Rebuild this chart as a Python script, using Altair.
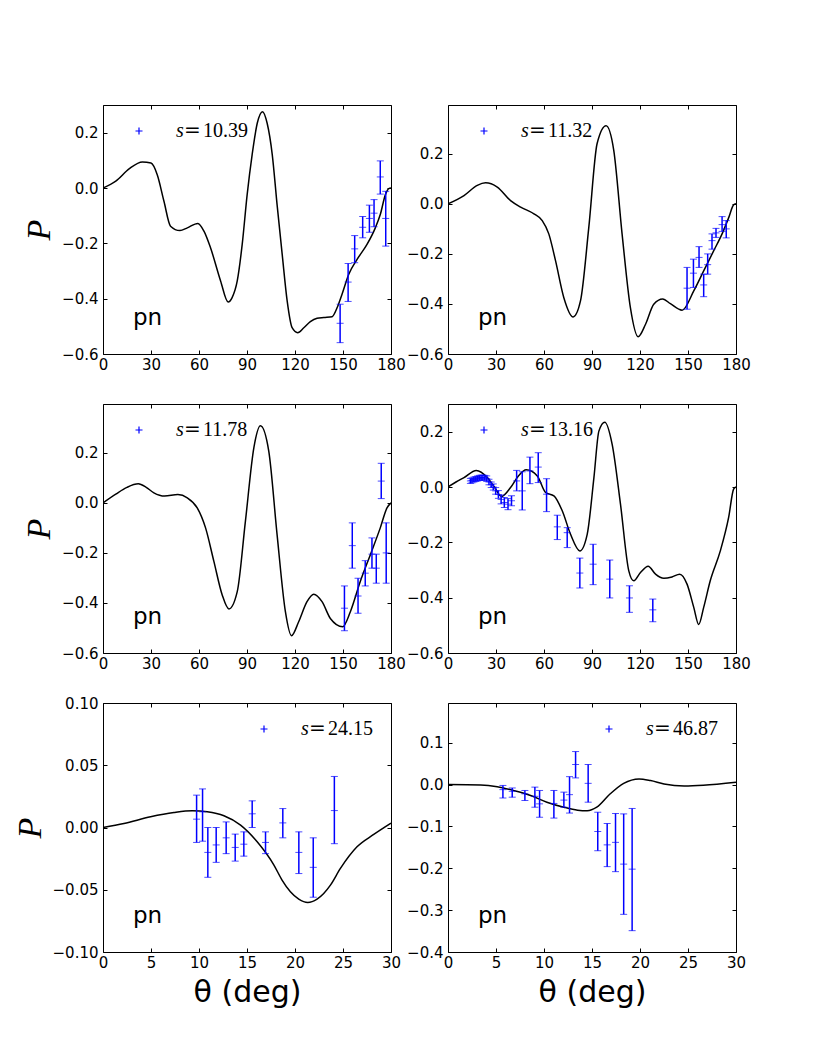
import altair as alt
import pandas as pd

W, H = 288, 249
BLUE = "#0000ff"

# ---------------- data ----------------
# panel 1: s = 10.39
p1_cx = [0, 8, 16.5, 24.6, 30, 33.9, 38.1, 42.2, 48.1, 52.7, 59.3, 63.1, 67.2, 73.5, 78.2, 80.7, 83.9, 87, 90.1, 93.2, 96.4, 99.7, 102.6, 105.8, 108.8, 112, 115.1, 118.2, 121.7, 125.5, 129.6, 133.8, 138, 143.2, 146.3, 149.4, 153.6, 158.8, 165, 170.2, 173.3, 176.5, 178.6, 180]
p1_cy = [0, 0.025, 0.07, 0.094, 0.09, 0.048, -0.048, -0.138, -0.154, -0.144, -0.128, -0.156, -0.216, -0.336, -0.412, -0.396, -0.336, -0.204, -0.024, 0.12, 0.234, 0.276, 0.234, 0.12, -0.06, -0.24, -0.408, -0.505, -0.523, -0.505, -0.483, -0.471, -0.468, -0.465, -0.433, -0.384, -0.312, -0.258, -0.204, -0.144, -0.096, -0.024, -0.002, 0]
p1_dx = [148.2, 153.2, 157.3, 162.3, 166.5, 169.4, 173.3, 176.7]
p1_dy = [-0.489, -0.340, -0.220, -0.142, -0.110, -0.091, 0.040, -0.110]
p1_hi = [-0.420, -0.273, -0.172, -0.103, -0.062, -0.042, 0.098, -0.012]
p1_lo = [-0.559, -0.410, -0.270, -0.180, -0.160, -0.140, -0.022, -0.210]

# panel 2: s = 11.32
p2_cx = [0, 10, 18.3, 23.5, 30.8, 39.1, 45.4, 53.7, 58.9, 63, 67.2, 72.4, 78.2, 82.8, 88, 93.2, 98.8, 103.6, 108.8, 114, 118.8, 123.4, 128.6, 134.2, 139, 146.3, 153.6, 159.8, 166.1, 171.3, 175.5, 178.5, 180]
p2_cy = [0, 0.033, 0.074, 0.084, 0.067, 0.013, -0.013, -0.04, -0.067, -0.12, -0.227, -0.375, -0.452, -0.388, -0.094, 0.241, 0.312, 0.214, -0.12, -0.415, -0.531, -0.482, -0.401, -0.38, -0.399, -0.425, -0.348, -0.268, -0.187, -0.12, -0.054, -0.004, 0]
p2_dx = [149.4, 153.4, 156.9, 159.8, 162.3, 165.0, 167.5, 171.3, 173.9]
p2_dy = [-0.337, -0.277, -0.214, -0.324, -0.243, -0.147, -0.116, -0.083, -0.100]
p2_hi = [-0.254, -0.221, -0.171, -0.281, -0.200, -0.120, -0.098, -0.051, -0.067]
p2_lo = [-0.421, -0.334, -0.254, -0.371, -0.281, -0.181, -0.134, -0.110, -0.136]

# panel 3: s = 11.78
p3_cx = [0, 8, 15, 22.1, 27, 31.8, 38.5, 46.8, 52.7, 58.9, 64.1, 69.3, 74.5, 78.7, 83.9, 89, 94.3, 98.4, 103.6, 108.8, 114, 117.8, 122.3, 127.5, 131.7, 136.9, 142.1, 149.8, 154.6, 160.8, 167.1, 173.3, 177.5, 180]
p3_cy = [0, 0.035, 0.062, 0.076, 0.062, 0.04, 0.027, 0.033, 0.02, -0.02, -0.1, -0.234, -0.368, -0.424, -0.355, -0.074, 0.221, 0.308, 0.207, -0.127, -0.435, -0.531, -0.475, -0.395, -0.365, -0.395, -0.462, -0.495, -0.435, -0.314, -0.207, -0.1, -0.02, 0]
p3_dx = [150.9, 155.8, 159.4, 163.9, 168.1, 170.8, 173.9, 177.0]
p3_dy = [-0.421, -0.171, -0.372, -0.281, -0.205, -0.261, 0.087, -0.200]
p3_hi = [-0.332, -0.080, -0.301, -0.231, -0.140, -0.205, 0.158, -0.080]
p3_lo = [-0.511, -0.261, -0.441, -0.332, -0.261, -0.321, 0.017, -0.321]

# panel 4: s = 13.16
p4_cx = [0, 5, 10, 17.7, 24.6, 29, 33.5, 39.1, 44, 48.9, 55.8, 61, 66.2, 71.4, 76.6, 82.4, 87, 91.2, 94.3, 98, 102.6, 107.8, 113, 116.1, 120.3, 125.1, 129.7, 134.9, 140, 144.8, 149.4, 153.6, 156.7, 159.8, 163.9, 170.2, 175.4, 178.5, 180]
p4_cy = [0, 0.018, 0.034, 0.06, 0.034, 0.0, -0.034, -0.002, 0.04, 0.062, 0.04, -0.02, -0.032, -0.086, -0.171, -0.231, -0.171, 0.034, 0.202, 0.234, 0.154, -0.062, -0.303, -0.339, -0.309, -0.286, -0.315, -0.33, -0.325, -0.315, -0.351, -0.435, -0.497, -0.435, -0.339, -0.231, -0.11, -0.008, 0]
p4_dx = [14.0, 15.0, 16.2, 17.4, 18.5, 19.6, 20.7, 21.8, 23.0, 24.2, 25.6, 27.0, 28.3, 29.8, 31.5, 33.2, 35.2, 37.5, 39.7, 42.9, 46.4, 51.2, 56.4, 61.6, 68.3, 74.5, 82.4, 90.7, 101.1, 113.4, 128.0]
p4_dy = [0.022, 0.024, 0.027, 0.029, 0.031, 0.033, 0.034, 0.034, 0.033, 0.030, 0.018, 0.008, 0.000, -0.014, -0.027, -0.045, -0.056, -0.062, -0.050, 0.022, -0.014, 0.058, 0.072, -0.026, -0.144, -0.165, -0.311, -0.279, -0.333, -0.401, -0.444]
p4_hi = [0.031, 0.033, 0.036, 0.038, 0.040, 0.042, 0.043, 0.043, 0.042, 0.040, 0.028, 0.018, 0.011, -0.002, -0.013, -0.029, -0.038, -0.042, -0.032, 0.060, 0.055, 0.108, 0.124, 0.030, -0.102, -0.147, -0.257, -0.207, -0.264, -0.357, -0.405]
p4_lo = [0.013, 0.015, 0.018, 0.020, 0.022, 0.024, 0.025, 0.025, 0.024, 0.020, 0.008, -0.002, -0.011, -0.026, -0.041, -0.061, -0.074, -0.082, -0.068, -0.014, -0.083, 0.012, 0.016, -0.089, -0.190, -0.219, -0.365, -0.353, -0.401, -0.453, -0.487]

# panel 5: s = 24.15
p5_cx = [0, 2.18, 4.96, 7.39, 9.3, 10.86, 12.6, 14.33, 16.06, 17.79, 18.65, 19.52, 20.39, 21.33, 22.3, 22.99, 23.69, 24.73, 26.46, 28.2, 30]
p5_cy = [0, 0.0032, 0.0086, 0.012, 0.0134, 0.0126, 0.0094, 0.0019, -0.0115, -0.030, -0.0422, -0.0516, -0.0575, -0.0602, -0.0575, -0.053, -0.0463, -0.0329, -0.0155, -0.0056, 0.0035]
p5_dx = [9.75, 10.37, 10.92, 11.79, 12.83, 13.77, 14.67, 15.54, 16.93, 18.73, 20.40, 21.90, 24.10]
p5_dy = [0.0067, 0.0126, -0.0200, -0.0140, -0.0083, -0.0160, -0.0134, 0.0110, -0.0120, 0.0037, -0.0200, -0.0320, 0.0136]
p5_hi = [0.026, 0.031, 0.000, 0.000, 0.0045, -0.0053, -0.0035, 0.0214, -0.0035, 0.0152, -0.0035, -0.0083, 0.041]
p5_lo = [-0.012, -0.011, -0.040, -0.028, -0.021, -0.027, -0.023, 0.000, -0.021, -0.0083, -0.037, -0.056, -0.013]

# panel 6: s = 46.87
p6_cx = [0, 3.4, 5.13, 6.87, 8.6, 10.3, 12.07, 13.5, 14.5, 15.5, 16.9, 18.3, 19.9, 21.1, 22.5, 24.6, 26.6, 30]
p6_cy = [0, -0.0008, -0.005, -0.0144, -0.026, -0.042, -0.054, -0.061, -0.0624, -0.054, -0.022, 0.003, 0.0136, 0.0096, 0.0016, -0.0032, -0.0016, 0.0056]
p6_dx = [5.72, 6.69, 8.01, 9.05, 9.54, 11.03, 12.07, 12.66, 13.29, 14.60, 15.60, 16.58, 17.45, 18.30, 19.18]
p6_dy = [-0.012, -0.016, -0.022, -0.028, -0.046, -0.045, -0.037, -0.024, 0.048, 0.003, -0.112, -0.144, -0.138, -0.190, -0.202]
p6_hi = [-0.002, -0.008, -0.014, -0.006, -0.014, -0.014, -0.018, 0.019, 0.079, 0.048, -0.066, -0.093, -0.069, -0.070, -0.057]
p6_lo = [-0.032, -0.030, -0.038, -0.054, -0.078, -0.080, -0.054, -0.068, 0.016, -0.042, -0.158, -0.196, -0.208, -0.310, -0.349]

s_values = ["10.39", "11.32", "11.78", "13.16", "24.15", "46.87"]
reaction = "pn"

x_ticks_wide = [0, 30, 60, 90, 120, 150, 180]
x_ticks_narrow = [0, 5, 10, 15, 20, 25, 30]
y_ticks_a = [-0.6, -0.4, -0.2, 0.0, 0.2]
y_ticks_b = [-0.10, -0.05, 0.00, 0.05, 0.10]
y_ticks_c = [-0.4, -0.3, -0.2, -0.1, 0.0, 0.1]

one = pd.DataFrame({"k": [0]})


def panel(cx, cy, dx, dy, dlo, dhi, xdom, xticks, ydom, yticks, yfmt,
          s_txt, leg_x, ytitle, xtitle):
    curve = pd.DataFrame({"x": cx, "y": cy})
    pts = pd.DataFrame({"x": dx, "y": dy, "lo": dlo, "hi": dhi})
    xs = alt.Scale(domain=xdom, nice=False, zero=False)
    ys = alt.Scale(domain=ydom, nice=False, zero=False)

    xa = dict(values=xticks, format="d", orient="bottom", offset=-4, tickSize=4,
              domain=False, grid=False, labelPadding=3, labelFlush=False,
              labelOverlap=False)
    ya = dict(values=yticks, format=yfmt, orient="left", offset=-4, tickSize=4,
              domain=False, grid=False, labelPadding=5, labelFlush=False,
              labelOverlap=False)
    if xtitle:
        xa.update(title="θ (deg)", titleFont="DejaVu Sans", titleFontSize=30,
                  titleFontWeight="normal", titlePadding=7, titleColor="black")
    else:
        xa.update(title="")
    if ytitle:
        ya.update(title="P", titleFont="Liberation Serif", titleFontStyle="italic",
                  titleFontSize=34, titleFontWeight="normal", titlePadding=5,
                  titleColor="black")
    else:
        ya.update(title="")

    line = alt.Chart(curve).mark_line(color="black", strokeWidth=1.5,
                                      interpolate="monotone", clip=True).encode(
        x=alt.X("x:Q", scale=xs, axis=alt.Axis(**xa)),
        y=alt.Y("y:Q", scale=ys, axis=alt.Axis(**ya)),
    )
    ghost = alt.Chart(curve).mark_line(opacity=0).encode(
        x=alt.X("x:Q", scale=xs, axis=alt.Axis(values=xticks, orient="top", offset=-4,
                                               tickSize=4, labels=False, domain=False,
                                               grid=False, title="")),
        y=alt.Y("y:Q", scale=ys, axis=alt.Axis(values=yticks, orient="right", offset=-4,
                                               tickSize=4, labels=False, domain=False,
                                               grid=False, title="")),
    )
    bars = alt.Chart(pts).mark_rule(color=BLUE, strokeWidth=1.5).encode(
        x=alt.X("x:Q", scale=xs, axis=None),
        y=alt.Y("lo:Q", scale=ys, axis=None),
        y2="hi:Q",
    )
    caps_lo = alt.Chart(pts).mark_tick(color=BLUE, thickness=1, size=7,
                                       orient="horizontal").encode(
        x=alt.X("x:Q", scale=xs, axis=None), y=alt.Y("lo:Q", scale=ys, axis=None))
    caps_hi = alt.Chart(pts).mark_tick(color=BLUE, thickness=1, size=7,
                                       orient="horizontal").encode(
        x=alt.X("x:Q", scale=xs, axis=None), y=alt.Y("hi:Q", scale=ys, axis=None))
    centers = alt.Chart(pts).mark_tick(color=BLUE, thickness=1, size=7,
                                       orient="horizontal").encode(
        x=alt.X("x:Q", scale=xs, axis=None), y=alt.Y("y:Q", scale=ys, axis=None))

    marker = alt.Chart(one).mark_point(shape="M-1,0L1,0M0,-1L0,1", filled=False,
                                       color=BLUE, strokeWidth=1.2, size=49,
                                       opacity=1).encode(
        x=alt.value(leg_x), y=alt.value(26))
    t_s = alt.Chart(one).mark_text(text="s", font="Liberation Serif", fontStyle="italic",
                                   fontSize=20, align="left", baseline="alphabetic",
                                   color="black").encode(
        x=alt.value(leg_x + 37), y=alt.value(32))
    t_eq = alt.Chart(one).mark_text(text="=", font="DejaVu Serif", fontSize=20,
                                    align="left", baseline="alphabetic",
                                    color="black").encode(
        x=alt.value(leg_x + 45), y=alt.value(32))
    t_num = alt.Chart(one).mark_text(text=s_txt, font="Liberation Serif", fontSize=20,
                                     align="left", baseline="alphabetic",
                                     color="black").encode(
        x=alt.value(leg_x + 64), y=alt.value(32))
    t_pn = alt.Chart(one).mark_text(text=reaction, font="DejaVu Sans", fontSize=23,
                                    align="left", baseline="alphabetic",
                                    color="black").encode(
        x=alt.value(30), y=alt.value(H - 29))

    return alt.layer(line, ghost, bars, caps_lo, caps_hi, centers, marker,
                     t_s, t_eq, t_num, t_pn).resolve_axis(
        x="independent", y="independent").properties(width=W, height=H)


c1 = panel(p1_cx, p1_cy, p1_dx, p1_dy, p1_lo, p1_hi, [0, 180], x_ticks_wide,
           [-0.6, 0.3], y_ticks_a, ".1f", s_values[0], 36, True, False)
c2 = panel(p2_cx, p2_cy, p2_dx, p2_dy, p2_lo, p2_hi, [0, 180], x_ticks_wide,
           [-0.6, 0.395], y_ticks_a, ".1f", s_values[1], 36, False, False)
c3 = panel(p3_cx, p3_cy, p3_dx, p3_dy, p3_lo, p3_hi, [0, 180], x_ticks_wide,
           [-0.6, 0.395], y_ticks_a, ".1f", s_values[2], 36, True, False)
c4 = panel(p4_cx, p4_cy, p4_dx, p4_dy, p4_lo, p4_hi, [0, 180], x_ticks_wide,
           [-0.6, 0.3], y_ticks_a, ".1f", s_values[3], 36, False, False)
c5 = panel(p5_cx, p5_cy, p5_dx, p5_dy, p5_lo, p5_hi, [0, 30], x_ticks_narrow,
           [-0.1, 0.1], y_ticks_b, ".2f", s_values[4], 161, True, True)
c6 = panel(p6_cx, p6_cy, p6_dx, p6_dy, p6_lo, p6_hi, [0, 30], x_ticks_narrow,
           [-0.4, 0.195], y_ticks_c, ".1f", s_values[5], 161, False, True)

chart = alt.concat(c1, c2, c3, c4, c5, c6, columns=2,
                   spacing={"row": 50, "column": 57}, bounds="flush").properties(
    padding={"left": 4, "top": 96, "right": 10, "bottom": 10}
).configure_view(stroke="black", strokeWidth=1).configure_axis(
    labelFont="DejaVu Sans", labelFontSize=15, labelColor="black",
    tickColor="black", tickWidth=1
)

chart.save("out.html", embed_options={"renderer": "svg", "actions": False})
